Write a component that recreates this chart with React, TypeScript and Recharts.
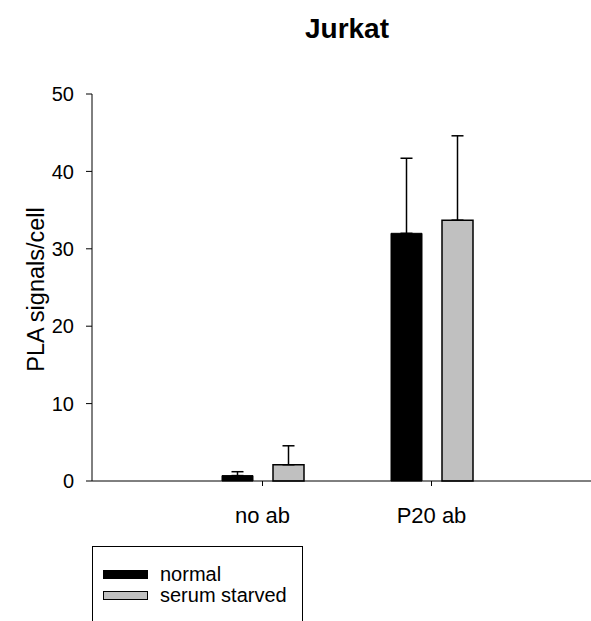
import React from 'react';
import { BarChart, Bar, XAxis, YAxis, ErrorBar, Legend, Label } from 'recharts';

const categories = ['no ab', 'P20 ab'];
const normalValues = [0.7, 32.0];
const normalErrors = [0.5, 9.7];
const starvedValues = [2.1, 33.7];
const starvedErrors = [2.45, 10.9];
const yTicks = [0, 10, 20, 30, 40, 50];
const seriesNames = ['normal', 'serum starved'];

const data = categories.map((c, i) => ({
  category: c,
  normal: normalValues[i],
  normalErr: [0, normalErrors[i]],
  starved: starvedValues[i],
  starvedErr: [0, starvedErrors[i]],
}));

const FONT = '"Liberation Sans", Arial, sans-serif';

const LegendContent = () => (
  <div style={{ fontFamily: FONT, fontSize: 20, color: '#000', paddingTop: 17, paddingLeft: 10 }}>
    {seriesNames.map((name, i) => (
      <div key={name} style={{ display: 'flex', alignItems: 'center', height: 21 }}>
        <div
          style={{
            width: 45,
            height: 9,
            boxSizing: 'border-box',
            background: i === 0 ? '#000' : '#c0c0c0',
            border: '1.5px solid #000',
            marginRight: 12,
          }}
        />
        <span>{name}</span>
      </div>
    ))}
  </div>
);

export default function App() {
  return (
    <div style={{ position: 'absolute', left: 0, top: 0, width: 591, height: 621, background: '#fff' }}>
      <div
        style={{
          position: 'absolute',
          left: 0,
          top: 13,
          width: 694,
          textAlign: 'center',
          fontFamily: FONT,
          fontWeight: 'bold',
          fontSize: 28,
          color: '#000',
        }}
      >
        Jurkat
      </div>
      <BarChart
        width={591}
        height={621}
        data={data}
        margin={{ top: 94, right: 0, bottom: 100, left: 0 }}
        barSize={31}
        barGap={20}
      >
        <XAxis
          dataKey="category"
          height={40}
          padding={{ left: 86, right: 75 }}
          stroke="#000"
          tickLine={{ stroke: '#000' }}
          tickSize={5}
          tickMargin={21}
          tick={{ fill: '#000', fontFamily: FONT, fontSize: 22 }}
        />
        <YAxis
          width={92}
          domain={[0, 50]}
          ticks={yTicks}
          stroke="#000"
          tickLine={{ stroke: '#000' }}
          tickSize={6}
          tickMargin={12}
          tick={{ fill: '#000', fontFamily: FONT, fontSize: 20 }}
        >
          <Label
            value="PLA signals/cell"
            angle={-90}
            position="center"
            dx={-10}
            dy={2}
            style={{ fill: '#000', fontFamily: FONT, fontSize: 23.5 }}
          />
        </YAxis>
        <Legend
          layout="horizontal"
          verticalAlign="middle"
          align="center"
          content={LegendContent}
          wrapperStyle={{
            position: 'absolute',
            left: 92,
            top: 546,
            width: 211,
            height: 110,
            border: '1px solid #000',
            boxSizing: 'border-box',
            background: '#fff',
          }}
        />
        <Bar dataKey="normal" name="normal" fill="#000" stroke="#000" strokeWidth={1} isAnimationActive={false}>
          <ErrorBar dataKey="normalErr" width={6} stroke="#000" strokeWidth={1.5} isAnimationActive={false} />
        </Bar>
        <Bar dataKey="starved" name="serum starved" fill="#c0c0c0" stroke="#000" strokeWidth={1.5} isAnimationActive={false}>
          <ErrorBar dataKey="starvedErr" width={6} stroke="#000" strokeWidth={1.5} isAnimationActive={false} />
        </Bar>
      </BarChart>
    </div>
  );
}
